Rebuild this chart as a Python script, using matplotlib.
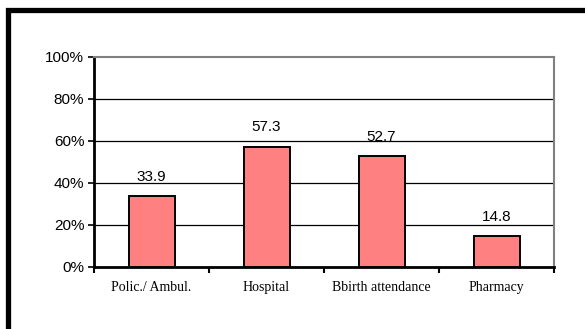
import matplotlib
matplotlib.use("Agg")
import matplotlib.pyplot as plt
from matplotlib.patches import Rectangle

categories = ["Polic./ Ambul.", "Hospital", "Bbirth attendance", "Pharmacy"]
values = [33.9, 57.3, 52.7, 14.8]
y_ticks = [0, 20, 40, 60, 80, 100]
y_tick_labels = ["0%", "20%", "40%", "60%", "80%", "100%"]

W, H = 585, 329
fig = plt.figure(figsize=(W / 100, H / 100), dpi=100)
fig.patch.set_facecolor("white")

# heavy frame around the chart area (runs off the right and bottom edges)
fig.add_artist(Rectangle((7.5 / W, -0.2), 1.5, 1.2 - 9.5 / H,
                         transform=fig.transFigure, fill=False,
                         edgecolor="black", linewidth=3.8, zorder=0))

left, right = 94 / W, 554 / W
bottom, top = 1 - 266.7 / H, 1 - 57 / H
ax = fig.add_axes([left, bottom, right - left, top - bottom])

x = list(range(len(categories)))
ax.bar(x, values, width=0.4, color="#FF8080", edgecolor="black",
       linewidth=1.4, zorder=3)

for xi, v in zip(x, values):
    ax.text(xi, v + 7.2, f"{v:.1f}", ha="center", va="baseline",
            fontsize=11, family="Liberation Sans", zorder=4)

ax.set_xlim(-0.5, len(categories) - 0.5)
ax.set_ylim(0, 100)
ax.set_yticks(y_ticks)
ax.set_yticklabels(y_tick_labels, family="Liberation Sans", fontsize=11)
for yv in y_ticks[1:-1]:
    ax.axhline(yv, color="black", linewidth=0.9, zorder=1)

ax.set_xticks([i - 0.5 for i in range(len(categories) + 1)])
ax.set_xticklabels([])
ax.set_xticks(x, minor=True)
ax.set_xticklabels(categories, minor=True, family="Liberation Serif", fontsize=10)
ax.tick_params(axis="x", which="minor", length=0, pad=10)
ax.tick_params(axis="x", which="major", length=4, width=1.5, direction="out")
ax.tick_params(axis="y", length=4, width=1.2, pad=3)

ax.spines["left"].set_linewidth(2)
ax.spines["bottom"].set_linewidth(2)
ax.spines["top"].set_color("#808080")
ax.spines["right"].set_color("#808080")
ax.spines["top"].set_linewidth(1.5)
ax.spines["right"].set_linewidth(1.5)

fig.savefig("out.png", dpi=100)
